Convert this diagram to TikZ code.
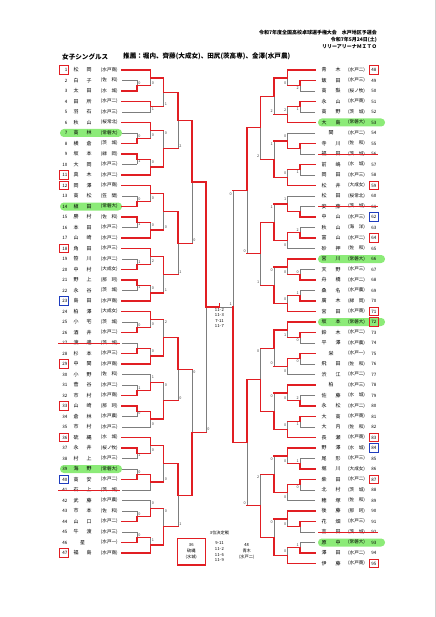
\documentclass[tikz,border=0pt]{standalone}
\usepackage{fontspec}
\setmainfont{Noto Sans CJK JP}
\pgfdeclarelayer{bg}
\pgfsetlayers{bg,main}
\definecolor{wred}{RGB}{225,30,35}
\definecolor{lgray}{RGB}{125,125,125}
\definecolor{pill}{RGB}{140,235,120}
\definecolor{bblue}{RGB}{30,60,190}
\tikzset{
  win/.style={draw=wred,line width=1.3bp,line cap=rect},
  lose/.style={draw=lgray,line width=0.7bp},
  numst/.style={inner sep=0pt,font=\fontsize{4.5}{5}\selectfont},
  namest/.style={inner sep=0pt,font=\fontsize{5}{6}\selectfont},
  schst/.style={inner sep=0pt,font=\fontsize{4.6}{5}\selectfont},
  tinyst/.style={inner sep=0pt,font=\fontsize{4.2}{5}\selectfont},
  scst/.style={inner sep=0pt,font=\fontsize{3.8}{4}\selectfont,text=black!75},
  hdst/.style={inner sep=0pt,font=\bfseries\fontsize{5}{6}\selectfont,anchor=east},
  ttlst/.style={inner sep=0pt,font=\bfseries\fontsize{6.6}{8}\selectfont,anchor=west},
  redbox/.style={draw=wred,line width=1bp},
  bluebox/.style={draw=bblue,line width=1bp},
  strk/.style={draw=wred,line width=0.5bp}
}
\def\wdg#1#2{#1}
\def\sdg#1#2{#2}
% vertical match line: x, ytop, ybottom, {winner}{loser score}, xout
\newcommand\Vm[5]{%
  \pgfmathsetmacro\ym{(#2+#3)/2}%
  \edef\wn{\wdg#4}\edef\ls{\sdg#4}%
  \ifnum\wn=1
    \begin{pgfonlayer}{bg}\draw[lose] (#1,\ym) -- (#1,#3);\end{pgfonlayer}
    \draw[win] (#1,#2) -- (#1,\ym) -- (#5,\ym);
    \if x\ls\else\node[scst] at (#1+\lo,#3-3) {\ls};\fi
  \else
    \begin{pgfonlayer}{bg}\draw[lose] (#1,#2) -- (#1,\ym);\end{pgfonlayer}
    \draw[win] (#1,#3) -- (#1,\ym) -- (#5,\ym);
    \if x\ls\else\node[scst] at (#1+\lo,#2+3) {\ls};\fi
  \fi}
% stub: y, xstart, xend, won(1/0)
\newcommand\St[4]{%
  \ifnum#4=1 \draw[win] (#2,#1) -- (#3,#1);%
  \else \begin{pgfonlayer}{bg}\draw[lose] (#2,#1) -- (#3,#1);\end{pgfonlayer}\fi}
% six-player block: ystart, R1top, R1bottom, R2top, R2bottom, R3
\newcommand\Blk[6]{%
  \pgfmathsetmacro\ya{#1}\pgfmathsetmacro\yb{#1+10.5}\pgfmathsetmacro\yc{#1+21}%
  \pgfmathsetmacro\yd{#1+31.5}\pgfmathsetmacro\ye{#1+42}\pgfmathsetmacro\yf{#1+52.5}%
  \pgfmathsetmacro\ybc{#1+15.75}\pgfmathsetmacro\yde{#1+36.75}%
  \pgfmathsetmacro\yT{#1+7.875}\pgfmathsetmacro\yB{#1+44.625}%
  \ifnum\wdg#4=1 \St{\ya}{\xA}{\xC}{1}\else\St{\ya}{\xA}{\xC}{0}\fi
  \ifnum\wdg#2=1 \St{\yb}{\xA}{\xB}{1}\St{\yc}{\xA}{\xB}{0}\else\St{\yb}{\xA}{\xB}{0}\St{\yc}{\xA}{\xB}{1}\fi
  \ifnum\wdg#3=1 \St{\yd}{\xA}{\xB}{1}\St{\ye}{\xA}{\xB}{0}\else\St{\yd}{\xA}{\xB}{0}\St{\ye}{\xA}{\xB}{1}\fi
  \ifnum\wdg#5=2 \St{\yf}{\xA}{\xC}{1}\else\St{\yf}{\xA}{\xC}{0}\fi
  \Vm{\xB}{\yb}{\yc}{#2}{\xC}%
  \Vm{\xB}{\yd}{\ye}{#3}{\xC}%
  \Vm{\xC}{\ya}{\ybc}{#4}{\xD}%
  \Vm{\xC}{\yde}{\yf}{#5}{\xD}%
  \Vm{\xD}{\yT}{\yB}{#6}{\xE}}
% rows
\newcommand\Lrow[4]{%
  \pgfmathsetmacro\ry{70+10.5*(#1-1)}%
  \node[numst,anchor=east] (n#1) at (67.6,\ry) {#1};%
  \if\relax\detokenize{#3}\relax
    \node[namest] (a#1) at (82.5,\ry) {#2};%
  \else
    \node[namest] (a#1) at (76,\ry) {#2};\node[namest] (b#1) at (89,\ry) {#3};%
  \fi
  \node[schst] (s#1) at (109.3,\ry) {(#4)};}
\newcommand\Rrow[4]{%
  \pgfmathsetmacro\ry{70+10.5*(#1-48)}%
  \node[numst] (n#1) at (373.8,\ry) {#1};%
  \if\relax\detokenize{#3}\relax
    \node[namest] (a#1) at (331,\ry) {#2};%
  \else
    \node[namest] (a#1) at (324,\ry) {#2};\node[namest] (b#1) at (338,\ry) {#3};%
  \fi
  \node[schst] (s#1) at (356.6,\ry) {(#4)};}
\begin{document}
\begin{tikzpicture}[x=1bp,y=-1bp]
\useasboundingbox (0,0) rectangle (436,617);
\draw[gray!35,line width=1bp] (435.3,0) -- (435.3,617);

% header
\node[hdst] (h1) at (377,32.7) {令和7年度全国高校卓球選手権大会　水戸地区予選会};
\node[hdst] (h2) at (377,40) {令和7年5月24日(土)};
\node[hdst] (h3) at (377,46.7) {リリーアリーナＭＩＴＯ};
\node[ttlst] (t1) at (62,56.7) {女子シングルス};
\node[ttlst] (t2) at (123,56.7) {推薦：堀内、齊藤(大成女)、田尻(茨高専)、金澤(水戸農)};

% green highlights
\begin{pgfonlayer}{bg}
\foreach \r in {7,14,39}{
  \pgfmathsetmacro\gy{70+10.5*(\r-1)}
  \fill[pill,rounded corners=3.8bp] (60,\gy-4) rectangle (122,\gy+4);}
\foreach \r in {53,66,72,93}{
  \pgfmathsetmacro\gy{70+10.5*(\r-48)}
  \fill[pill,rounded corners=3.8bp] (318,\gy-4) rectangle (385,\gy+4);}
\end{pgfonlayer}

% left list
\Lrow{1}{松}{岡}{水戸商}
\Lrow{2}{白}{子}{佐　和}
\Lrow{3}{太}{田}{水　城}
\Lrow{4}{田}{所}{水戸二}
\Lrow{5}{羽}{石}{水戸三}
\Lrow{6}{秋}{山}{桜常北}
\Lrow{7}{高}{林}{常磐大}
\Lrow{8}{横}{倉}{茨　城}
\Lrow{9}{坂}{本}{緑　岡}
\Lrow{10}{大}{岡}{水戸三}
\Lrow{11}{真}{木}{水戸二}
\Lrow{12}{岡}{澤}{水戸商}
\Lrow{13}{高}{松}{笠　間}
\Lrow{14}{植}{田}{常磐大}
\Lrow{15}{勝}{村}{佐　和}
\Lrow{16}{本}{田}{水戸三}
\Lrow{17}{山}{崎}{水戸二}
\Lrow{18}{角}{田}{水戸三}
\Lrow{19}{笹}{川}{水戸二}
\Lrow{20}{中}{村}{大成女}
\Lrow{21}{野}{上}{那　珂}
\Lrow{22}{永}{谷}{茨　城}
\Lrow{23}{島}{田}{水戸商}
\Lrow{24}{柏}{澤}{大成女}
\Lrow{25}{小}{宅}{茨　城}
\Lrow{26}{酒}{井}{水戸二}
\Lrow{27}{渡}{邊}{茨　城}
\Lrow{28}{杉}{本}{水戸三}
\Lrow{29}{中}{関}{水戸商}
\Lrow{30}{小}{野}{佐　和}
\Lrow{31}{菅}{谷}{水戸二}
\Lrow{32}{市}{村}{水戸商}
\Lrow{33}{山}{崎}{那　珂}
\Lrow{34}{倉}{林}{水戸農}
\Lrow{35}{市}{村}{水戸三}
\Lrow{36}{硫}{縄}{水　城}
\Lrow{37}{永}{井}{桜ノ牧}
\Lrow{38}{村}{上}{水戸三}
\Lrow{39}{海}{野}{常磐大}
\Lrow{40}{高}{安}{水戸二}
\Lrow{41}{石}{上}{茨　城}
\Lrow{42}{武}{藤}{水戸農}
\Lrow{43}{市}{本}{佐　和}
\Lrow{44}{山}{口}{水戸二}
\Lrow{45}{牛}{渡}{水戸三}
\Lrow{46}{星}{}{水戸一}
\Lrow{47}{福}{島}{水戸商}

% right list
\Rrow{48}{青}{木}{水戸二}
\Rrow{49}{飯}{田}{水戸三}
\Rrow{50}{高}{梨}{桜ノ牧}
\Rrow{51}{永}{山}{水戸商}
\Rrow{52}{高}{野}{茨　城}
\Rrow{53}{大}{島}{常磐大}
\Rrow{54}{関}{}{水戸二}
\Rrow{55}{寺}{川}{佐　和}
\Rrow{56}{福}{田}{茨　城}
\Rrow{57}{前}{嶋}{水　城}
\Rrow{58}{岡}{田}{水戸三}
\Rrow{59}{松}{井}{大成女}
\Rrow{60}{松}{田}{桜常北}
\Rrow{61}{安}{藤}{茨　城}
\Rrow{62}{中}{山}{水戸三}
\Rrow{63}{秋}{山}{海　洋}
\Rrow{64}{富}{山}{水戸二}
\Rrow{65}{砂}{押}{佐　和}
\Rrow{66}{宮}{川}{常磐大}
\Rrow{67}{天}{野}{水戸三}
\Rrow{68}{舟}{橋}{水戸二}
\Rrow{69}{桑}{名}{水戸農}
\Rrow{70}{廣}{木}{緑　岡}
\Rrow{71}{宮}{田}{水戸商}
\Rrow{72}{坂}{本}{常磐大}
\Rrow{73}{鈴}{木}{水戸二}
\Rrow{74}{平}{澤}{水戸農}
\Rrow{75}{栄}{}{水戸一}
\Rrow{76}{飛}{田}{佐　和}
\Rrow{77}{渋}{江}{水戸二}
\Rrow{78}{柏}{}{水戸三}
\Rrow{79}{佐}{藤}{水　城}
\Rrow{80}{永}{松}{水戸二}
\Rrow{81}{大}{高}{水戸商}
\Rrow{82}{大}{内}{佐　和}
\Rrow{83}{長}{瀬}{水戸商}
\Rrow{84}{野}{澤}{水　城}
\Rrow{85}{尾}{形}{水戸三}
\Rrow{86}{堀}{川}{大成女}
\Rrow{87}{柴}{田}{水戸二}
\Rrow{88}{北}{村}{茨　城}
\Rrow{89}{穂}{塚}{佐　和}
\Rrow{90}{後}{藤}{那　珂}
\Rrow{91}{花}{畑}{水戸三}
\Rrow{92}{吉}{田}{茨　城}
\Rrow{93}{原}{中}{常磐大}
\Rrow{94}{澤}{田}{水戸二}
\Rrow{95}{伊}{藤}{水戸商}

% number boxes
\foreach \r in {1,11,12,18,29,33,36,47}{
  \pgfmathsetmacro\by{70+10.5*(\r-1)}
  \draw[redbox] (59,\by-4.3) rectangle (68.2,\by+4.3);}
\foreach \r in {23,40}{
  \pgfmathsetmacro\by{70+10.5*(\r-1)}
  \draw[bluebox] (59,\by-4.3) rectangle (68.2,\by+4.3);}
\foreach \r in {48,59,64,71,72,83,87,95}{
  \pgfmathsetmacro\by{70+10.5*(\r-48)}
  \draw[redbox] (369.2,\by-4.3) rectangle (378.4,\by+4.3);}
\foreach \r in {62,84}{
  \pgfmathsetmacro\by{70+10.5*(\r-48)}
  \draw[bluebox] (369.2,\by-4.3) rectangle (378.4,\by+4.3);}
% withdrawn
\foreach \r in {27,41}{
  \pgfmathsetmacro\sy{70+10.5*(\r-1)}
  \draw[strk] (58,\sy) -- (120,\sy);}
\foreach \r in {56,61,92}{
  \pgfmathsetmacro\sy{70+10.5*(\r-48)}
  \draw[strk] (318,\sy) -- (378,\sy);}

% ---------- left bracket ----------
\def\lo{2.3}
\def\xA{122}\def\xB{137}\def\xC{150.5}\def\xD{163.5}\def\xE{178}\def\xF{192}\def\xG{206}
\St{70}{\xA}{\xC}{1}
\St{80.5}{\xA}{\xB}{0}\St{91}{\xA}{\xB}{1}
\Vm{\xB}{80.5}{91}{20}{\xC}
\Vm{\xC}{70}{85.75}{10}{\xD}
\St{101.5}{\xA}{\xC}{1}\St{112}{\xA}{\xC}{0}
\Vm{\xC}{101.5}{112}{11}{\xD}
\Vm{\xD}{77.875}{106.75}{11}{\xE}
\Blk{122.5}{20}{11}{10}{20}{20}
\Blk{185.5}{20}{11}{10}{20}{10}
\Blk{248.5}{21}{11}{12}{20}{11}
\Blk{311.5}{20}{2x}{10}{20}{22}
\Blk{374.5}{21}{10}{21}{10}{20}
\Blk{437.5}{11}{20}{10}{1x}{10}
\Blk{500.5}{20}{20}{20}{21}{20}
\Vm{\xE}{92.3125}{148.75}{12}{\xF}
\Vm{\xE}{211.75}{274.75}{11}{\xF}
\Vm{\xE}{337.75}{400.75}{10}{\xF}
\Vm{\xE}{463.75}{526.75}{11}{\xF}
\Vm{\xF}{120.53125}{243.25}{10}{\xG}
\Vm{\xF}{369.25}{495.25}{20}{\xG}
\Vm{\xG}{181.890625}{432.25}{10}{219.5}
\draw[win] (219.5,307.07) -- (219.5,303.5);

% ---------- right bracket ----------
\def\lo{-2.3}
\def\xA{315}\def\xB{300}\def\xC{287.5}\def\xD{274}\def\xE{260.5}\def\xF{247}\def\xG{233}
\Blk{70}{12}{11}{10}{22}{12}
\Blk{133}{1x}{11}{20}{20}{21}
\Blk{196}{2x}{22}{21}{10}{21}
\Blk{259}{20}{21}{10}{20}{20}
\Blk{322}{10}{10}{11}{10}{10}
\Blk{385}{22}{11}{10}{20}{20}
\Blk{448}{21}{10}{10}{10}{20}
\Blk{511}{1x}{21}{10}{20}{20}
\Vm{\xE}{96.25}{159.25}{12}{\xF}
\Vm{\xE}{222.25}{285.25}{11}{\xF}
\Vm{\xE}{348.25}{411.25}{20}{\xF}
\Vm{\xE}{474.25}{537.25}{22}{\xF}
\Vm{\xF}{127.75}{253.75}{10}{\xG}
\Vm{\xF}{379.75}{505.75}{10}{\xG}
\begin{pgfonlayer}{bg}
\draw[lose] (233,190.75) -- (233,307.07) -- (219.5,307.07);
\end{pgfonlayer}
\draw[win] (233,442.75) -- (233,307.07);
\node[scst] (r6s) at (230.7,193.8) {0};
\node[scst] (fns) at (230.7,304.3) {1};

% final scores
\node[tinyst] (f1) at (219.5,310) {11-\,2};
\node[tinyst] (f2) at (219.5,315.3) {11-\,3};
\node[tinyst] (f3) at (219.5,320.6) {7-11};
\node[tinyst] (f4) at (219.5,325.9) {11-\,7};

% third place
\node[tinyst] (tp) at (219.5,533) {3位決定戦};
\draw[redbox,line width=1.3bp] (177.3,538.3) rectangle (205.3,565);
\node[tinyst] (p36a) at (191.3,545.5) {36};
\node[tinyst] (p36b) at (191.3,551) {硫縄};
\node[tinyst] (p36c) at (191.3,556.7) {(水城)};
\node[tinyst] (p48a) at (246.7,545.5) {48};
\node[tinyst] (p48b) at (246.7,551) {青木};
\node[tinyst] (p48c) at (246.7,556.7) {(水戸二)};
\node[tinyst] (g1) at (219.5,543) {9-11};
\node[tinyst] (g2) at (219.5,548.8) {11-\,2};
\node[tinyst] (g3) at (219.5,554.6) {11-\,6};
\node[tinyst] (g4) at (219.5,560.4) {11-\,9};
\end{tikzpicture}
\end{document}
